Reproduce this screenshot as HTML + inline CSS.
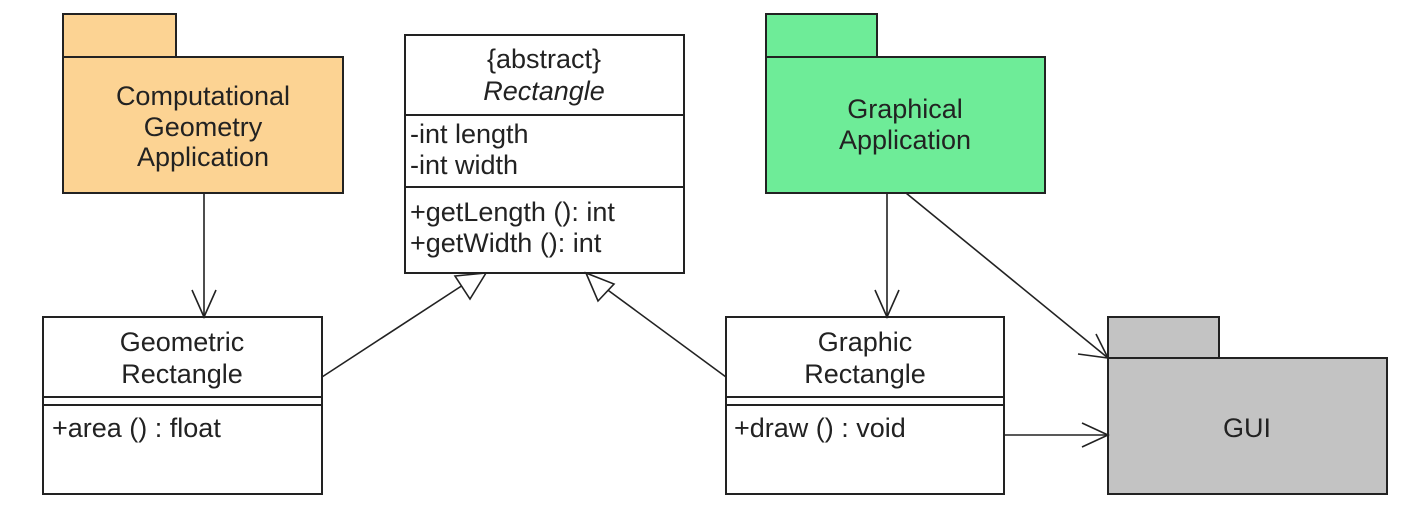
<!DOCTYPE html>
<html><head><style>
body{margin:0;background:#fff;}
svg text{font-family:"Liberation Sans",sans-serif;font-size:27px;fill:#222;}
</style></head><body>
<svg width="1406" height="510" xmlns="http://www.w3.org/2000/svg">
<g stroke="#222" stroke-width="2">
<rect x="63" y="14" width="113" height="43" fill="#fcd393"/>
<rect x="63" y="57" width="280" height="136" fill="#fcd393"/>
<rect x="766" y="14" width="111" height="43" fill="#6eec98"/>
<rect x="766" y="57" width="279" height="136" fill="#6eec98"/>
<rect x="1108" y="317" width="111" height="41" fill="#c3c3c3"/>
<rect x="1108" y="358" width="279" height="136" fill="#c3c3c3"/>
<rect x="405" y="35" width="279" height="238" fill="#fff"/>
<line x1="405" y1="115" x2="684" y2="115"/>
<line x1="405" y1="187" x2="684" y2="187"/>
<rect x="43" y="317" width="279" height="177" fill="#fff"/>
<line x1="43" y1="397" x2="322" y2="397"/>
<line x1="43" y1="405" x2="322" y2="405"/>
<rect x="726" y="317" width="278" height="177" fill="#fff"/>
<line x1="726" y1="397" x2="1004" y2="397"/>
<line x1="726" y1="405" x2="1004" y2="405"/>
</g>
<g stroke="#222" stroke-width="1.6" fill="none">
<line x1="204" y1="193" x2="204" y2="317"/><polyline points="192,290 204,317 216,290"/>
<line x1="887" y1="193" x2="887" y2="317"/><polyline points="875,290 887,317 899,290"/>
<line x1="906" y1="193" x2="1108" y2="358"/><polyline points="1078,354 1108,358 1096,334"/>
<line x1="1004" y1="435" x2="1108" y2="435"/><polyline points="1082,423 1108,435 1082,447"/>
<line x1="322" y1="377" x2="463" y2="285"/><polygon points="486,273 455,276 470,299" fill="#fff"/>
<line x1="726" y1="377" x2="605" y2="288"/><polygon points="586,273 598,301 614,284" fill="#fff"/>
</g>
<g text-anchor="middle">
<text x="203" y="105">Computational</text>
<text x="203" y="136">Geometry</text>
<text x="203" y="166">Application</text>
<text x="905" y="118">Graphical</text>
<text x="905" y="149">Application</text>
<text x="1247" y="437">GUI</text>
<text x="544" y="68">{abstract}</text>
<text x="544" y="100" font-style="italic">Rectangle</text>
<text x="182" y="351">Geometric</text>
<text x="182" y="383">Rectangle</text>
<text x="865" y="351">Graphic</text>
<text x="865" y="383">Rectangle</text>
</g>
<text x="410" y="143">-int length</text>
<text x="410" y="174">-int width</text>
<text x="410" y="221">+getLength (): int</text>
<text x="410" y="252">+getWidth (): int</text>
<text x="52" y="437">+area () : float</text>
<text x="734" y="437">+draw () : void</text>
</svg>
</body></html>
